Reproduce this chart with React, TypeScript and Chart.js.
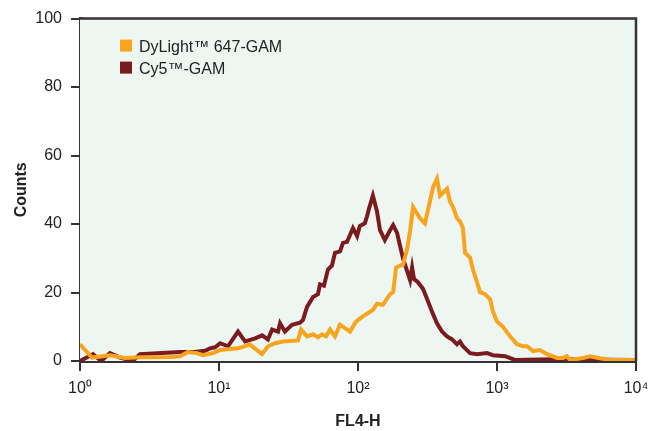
import React, { useEffect, useRef } from "react";
import { Chart, registerables } from "chart.js";

Chart.register(...registerables);

const xTickValues = [1, 10, 100, 1000, 10000];
const xTickLabels = ["10⁰", "10¹", "10²", "10³", "10⁴"];
const yTickStep = 20;

const dyLabel = "DyLight™ 647-GAM";
const dyFL4 = [1.0, 1.22, 1.64, 2.11, 2.70, 4.44, 5.24, 5.98, 6.95, 7.67, 9.05, 10.2, 11.6, 13.7, 16.7, 20.4, 22.5, 25.3, 28.9, 37.0, 38.9, 43.0, 47.5, 51.5, 55.1, 58.9, 63.0, 68.3, 74.2, 87.6, 96.8, 107, 128, 137, 151, 170, 179, 188, 211, 225, 237, 249, 279, 303, 330, 347, 370, 389, 437, 459, 482, 515, 542, 569, 589, 640, 672, 718, 755, 820, 891, 936, 1000, 1104, 1242, 1393, 1538, 1644, 1816, 2037, 2290, 2703, 2985, 3189, 3350, 4155, 4667, 5508, 6501, 10000];
const dyCounts = [4.9, 1, 1.7, 0.9, 1.1, 1.2, 1.4, 2.6, 2.3, 1.7, 2.3, 3.2, 3.4, 3.7, 4.8, 2, 4.3, 5.2, 5.7, 6, 9.2, 7.2, 7.8, 6.9, 7.8, 7.2, 9.2, 7.2, 10.6, 8.6, 11.5, 12.9, 14.9, 16.7, 16.4, 19.5, 20.1, 27.3, 28.2, 32.5, 37.9, 45, 41.7, 40.2, 46.8, 50.8, 53.2, 48.3, 50.3, 46.6, 45, 41.7, 40.8, 38.8, 31.6, 30.2, 26.7, 23, 20.1, 19.5, 18.1, 14.4, 11.5, 10, 7.2, 4.9, 4.3, 4.3, 2.9, 3.2, 2, 0.9, 0.9, 1.4, 0.3, 0.9, 1.4, 0.8, 0.3, 0.3];

const cyLabel = "Cy5™-GAM";
const cyFL4 = [1.0, 1.24, 1.42, 1.64, 1.94, 2.40, 2.70, 5.24, 6.72, 7.93, 8.61, 9.36, 10.2, 11.6, 13.7, 15.4, 18.2, 20.4, 22.5, 24.1, 26.6, 27.5, 29.8, 33.5, 38.3, 40.2, 43.0, 47.5, 51.5, 53.3, 56.9, 60.8, 65.0, 68.3, 74.2, 78.0, 83.4, 87.6, 92.0, 98.4, 103, 112, 116, 120, 128, 137, 144, 156, 170, 179, 191, 200, 211, 225, 237, 245, 253, 270, 294, 314, 341, 370, 402, 437, 475, 515, 542, 569, 640, 718, 847, 936, 1143, 1346, 2530, 10000];
const cyCounts = [0, 2, 0, 2.3, 1, 0, 2, 2.6, 2.6, 3, 3.7, 4, 5.2, 4.3, 8.6, 5.7, 6.6, 7.5, 6.3, 9.2, 8.6, 11, 8.6, 10.6, 11.2, 12, 15.8, 18.7, 19.5, 22.4, 22, 26.7, 27.9, 31.6, 32, 34.5, 34.8, 36.8, 38.8, 36.5, 39.4, 40.2, 42.2, 44.5, 48.3, 43.7, 38.2, 35.3, 38.2, 39.7, 37.4, 33.9, 29.9, 26.4, 23.6, 27.3, 23.9, 23, 21, 18.1, 14.4, 11, 8.6, 7.2, 6.3, 4.9, 5.7, 4.3, 2.3, 2, 2.3, 1.7, 1.4, 0.3, 0.5, 0.3];

const ORANGE = "#F8A41E";
const DARKRED = "#7A1B20";
const PLOT_BG = "#EEF6F1";
const AXIS = "#333333";
const TEXT = "#222222";
const FONT = "'Liberation Sans', Arial, sans-serif";

const plotPlugin = {
  id: "plotDecor",
  beforeDatasetsDraw(chart: any) {
    const { ctx, chartArea: a } = chart;
    ctx.save();
    ctx.fillStyle = PLOT_BG;
    ctx.fillRect(a.left, a.top, a.right - a.left, a.bottom - a.top);
    ctx.restore();
  },
  afterDatasetsDraw(chart: any) {
    const { ctx, chartArea: a } = chart;
    ctx.save();
    ctx.strokeStyle = AXIS;
    ctx.lineWidth = 2.5;
    ctx.beginPath();
    ctx.moveTo(a.left, a.top);
    ctx.lineTo(a.right, a.top);
    ctx.lineTo(a.right, a.bottom);
    ctx.stroke();
    // legend
    ctx.font = `16px ${FONT}`;
    ctx.textBaseline = "alphabetic";
    ctx.textAlign = "left";
    chart.data.datasets.forEach((ds: any, i: number) => {
      const y0 = a.top + 21 + i * 22;
      ctx.fillStyle = ds.borderColor;
      ctx.fillRect(a.left + 40, y0, 12, 12);
      ctx.fillStyle = TEXT;
      ctx.fillText(ds.label, a.left + 59, y0 + 12);
    });
    ctx.restore();
  },
};

export default function App() {
  const ref = useRef<HTMLCanvasElement | null>(null);
  useEffect(() => {
    if (!ref.current) return;
    const chart = new Chart(ref.current, {
      type: "line",
      data: {
        datasets: [
          {
            label: dyLabel,
            data: dyFL4.map((x, i) => ({ x, y: dyCounts[i] })),
            borderColor: ORANGE,
            backgroundColor: ORANGE,
            borderWidth: 4,
            pointRadius: 0,
            tension: 0,
            borderJoinStyle: "miter",
          },
          {
            label: cyLabel,
            data: cyFL4.map((x, i) => ({ x, y: cyCounts[i] })),
            borderColor: DARKRED,
            backgroundColor: DARKRED,
            borderWidth: 4,
            pointRadius: 0,
            tension: 0,
            borderJoinStyle: "miter",
          },
        ],
      },
      options: {
        animation: false,
        responsive: false,
        layout: { padding: { top: 10, right: 28, left: 0, bottom: 0 } },
        plugins: {
          legend: { display: false },
          tooltip: { enabled: false },
        },
        scales: {
          x: {
            type: "logarithmic",
            min: 1,
            max: 10000,
            afterFit: (s: any) => {
              s.height = 70;
            },
            afterBuildTicks: (s: any) => {
              s.ticks = xTickValues.map((v) => ({ value: v }));
            },
            ticks: {
              autoSkip: false,
              maxRotation: 0,
              padding: 8,
              color: TEXT,
              font: { family: FONT, size: 16 },
              callback: (_v: any, i: number) => xTickLabels[i],
            },
            grid: {
              drawOnChartArea: false,
              drawTicks: true,
              tickLength: 10,
              color: AXIS,
              lineWidth: 2,
            },
            border: { display: true, color: AXIS, width: 3 },
            title: {
              display: true,
              text: "FL4-H",
              color: TEXT,
              font: { family: FONT, size: 16, weight: "bold" },
              padding: { top: 0, bottom: 0 },
            },
          },
          y: {
            type: "linear",
            min: 0,
            max: 100,
            afterFit: (s: any) => {
              s.width = 80;
            },
            ticks: {
              stepSize: yTickStep,
              padding: 9,
              color: TEXT,
              font: { family: FONT, size: 16 },
            },
            grid: {
              drawOnChartArea: false,
              drawTicks: true,
              tickLength: 9,
              color: AXIS,
              lineWidth: 2,
            },
            border: { display: true, color: AXIS, width: 3 },
            title: {
              display: true,
              text: "Counts",
              color: TEXT,
              font: { family: FONT, size: 16, weight: "bold" },
              padding: { top: 12, bottom: 0 },
            },
          },
        },
      },
      plugins: [plotPlugin],
    } as any);
    return () => chart.destroy();
  }, []);
  return (
    <div style={{ position: "absolute", left: 0, top: 0, width: 664, height: 431, background: "#fff" }}>
      <canvas ref={ref} width={664} height={431} style={{ display: "block" }} />
    </div>
  );
}
